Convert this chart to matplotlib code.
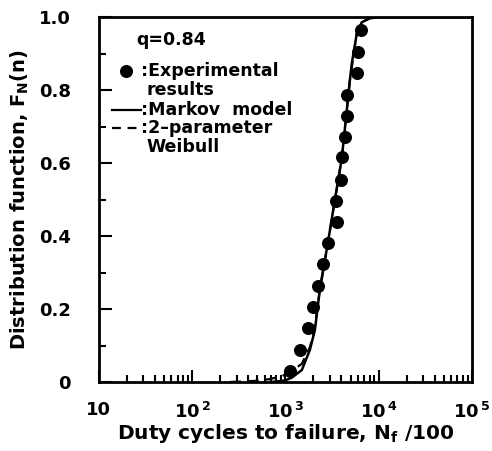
import matplotlib
matplotlib.use("Agg")
import matplotlib.pyplot as plt
from matplotlib.ticker import LogLocator, FixedLocator, NullFormatter, MultipleLocator

# Experimental results (duty cycles to failure / 100, distribution function)
exp_x = [1117, 1430, 1743, 1970, 2230, 2525, 2855, 3565, 3480, 3940,
         4035, 4350, 4570, 4570, 5845, 5990, 6455]
exp_y = [0.030, 0.088, 0.148, 0.205, 0.263, 0.323, 0.381, 0.438, 0.496, 0.553,
         0.616, 0.671, 0.729, 0.786, 0.847, 0.904, 0.964]

# Markov model curve
markov_x = [700, 990, 1175, 1503, 1832, 2072, 2343, 2855, 3397, 4035,
            4920, 5165, 5845, 6610, 8050, 10300, 100000]
markov_y = [0.0, 0.004, 0.012, 0.033, 0.088, 0.142, 0.252, 0.381, 0.499, 0.614,
            0.827, 0.874, 0.956, 0.986, 0.997, 1.0, 1.0]

# 2-parameter Weibull curve
weibull_x = [254, 471, 682, 916, 1175, 1503, 1832, 2072, 2343, 2855, 3397,
             4035, 4920, 5845, 6610, 8050, 10300, 100000]
weibull_y = [0.0, 0.003, 0.008, 0.016, 0.030, 0.050, 0.095, 0.150, 0.255, 0.381,
             0.499, 0.614, 0.827, 0.956, 0.986, 0.997, 1.0, 1.0]

xtick_vals = [10, 100, 1000, 10000, 100000]
xtick_labels = ["10", r"10$^{\,2}$", r"10$^{\,3}$", r"10$^{\,4}$", r"10$^{\,5}$"]
ytick_vals = [0, 0.2, 0.4, 0.6, 0.8, 1.0]
ytick_labels = ["0", "0.2", "0.4", "0.6", "0.8", "1.0"]

plt.rcParams['font.family'] = ['DejaVu Sans']
plt.rcParams['mathtext.default'] = 'bf'

fig = plt.figure(figsize=(4.92, 4.51), dpi=100)
ax = fig.add_axes([0.201, 0.153, 0.758, 0.809])

ax.plot(weibull_x, weibull_y, color='black', lw=1.6, ls=(0, (5, 3)))
ax.plot(markov_x, markov_y, color='black', lw=1.8)
ax.scatter(exp_x, exp_y, s=70, color='black', zorder=5)

ax.set_xscale('log')
ax.set_xlim(10, 100000)
ax.set_ylim(0, 1.0)

ax.xaxis.set_major_locator(FixedLocator(xtick_vals))
ax.set_xticklabels(xtick_labels)
ax.xaxis.set_minor_locator(LogLocator(base=10, subs=range(2, 10)))
ax.xaxis.set_minor_formatter(NullFormatter())
ax.set_yticks(ytick_vals)
ax.set_yticklabels(ytick_labels)
ax.yaxis.set_minor_locator(MultipleLocator(0.1))

ax.tick_params(which='both', direction='in', top=False, right=False, width=1.5)
ax.tick_params(which='major', length=9, labelsize=13)
ax.tick_params(which='minor', length=5)
for lab in ax.get_xticklabels() + ax.get_yticklabels():
    lab.set_fontweight('bold')
ax.tick_params(axis='x', pad=14)
ax.tick_params(axis='y', pad=20)

for s in ax.spines.values():
    s.set_linewidth(2)

ax.set_xlabel(r"Duty cycles to failure, N$_{\mathregular{f}}$ /100", fontsize=14.5,
              fontweight='bold', labelpad=0)
ax.set_ylabel(r"Distribution function, F$_{\mathregular{N}}$(n)", fontsize=14,
              fontweight='bold', labelpad=6)

# legend-like annotations
tfs = 12.5
ax.text(0.10, 0.937, "q=0.84", transform=ax.transAxes, fontsize=tfs,
        fontweight='bold', va='center')
ax.scatter([0.072], [0.852], s=70, color='black', transform=ax.transAxes, clip_on=False)
ax.text(0.112, 0.852, ":Experimental", transform=ax.transAxes, fontsize=tfs,
        fontweight='bold', va='center')
ax.text(0.127, 0.800, "results", transform=ax.transAxes, fontsize=tfs,
        fontweight='bold', va='center')
ax.plot([0.035, 0.112], [0.745, 0.745], color='black', lw=1.6, transform=ax.transAxes)
ax.text(0.112, 0.745, ":Markov  model", transform=ax.transAxes, fontsize=tfs,
        fontweight='bold', va='center')
ax.plot([0.035, 0.112], [0.697, 0.697], color='black', lw=1.6, ls=(0, (4, 3)),
        transform=ax.transAxes)
ax.text(0.112, 0.697, ":2\u2013parameter", transform=ax.transAxes, fontsize=tfs,
        fontweight='bold', va='center')
ax.text(0.127, 0.643, "Weibull", transform=ax.transAxes, fontsize=tfs,
        fontweight='bold', va='center')

fig.savefig("out.png", dpi=100)
